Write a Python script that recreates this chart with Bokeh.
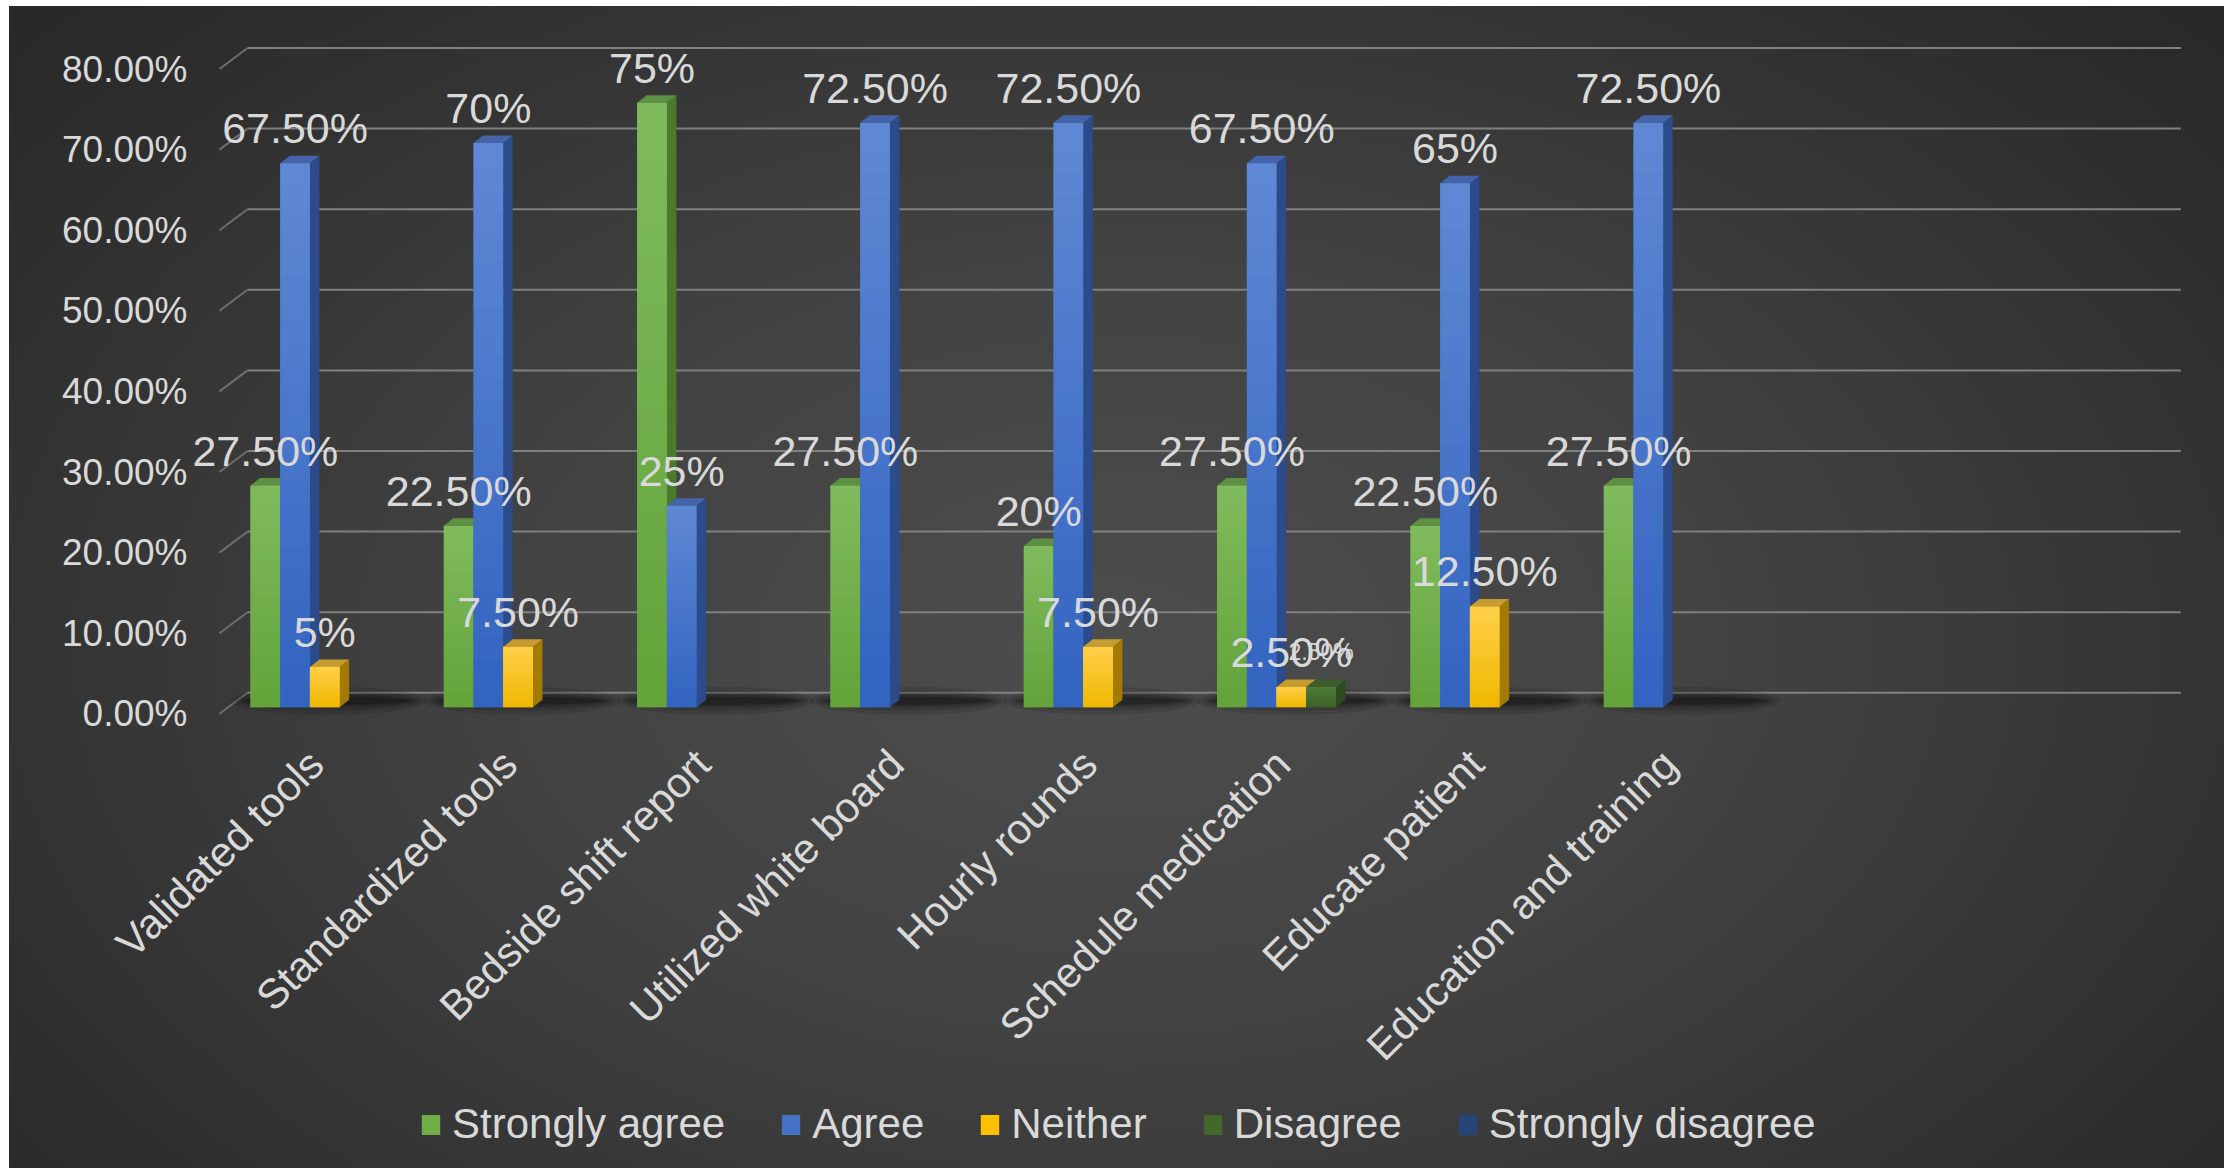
import math

from bokeh.core.properties import value
from bokeh.embed import file_html
from bokeh.models import (ColumnDataSource, FixedTicker, Legend, LegendItem,
                          LinearAxis, PrintfTickFormatter, Range1d)
from bokeh.plotting import figure
from bokeh.resources import INLINE

# ---------------------------------------------------------------- data
categories = [
    "Validated tools",
    "Standardized tools",
    "Bedside shift report",
    "Utilized white board",
    "Hourly rounds",
    "Schedule medication",
    "Educate patient",
    "Education and training",
]
series_names = ["Strongly agree", "Agree", "Neither", "Disagree", "Strongly disagree"]

strongly_agree = [27.5, 22.5, 75, 27.5, 20, 27.5, 22.5, 27.5]
agree = [67.5, 70, 25, 72.5, 72.5, 67.5, 65, 72.5]
neither = [5, 7.5, 0, 0, 7.5, 2.5, 12.5, 0]
disagree = [0, 0, 0, 0, 0, 2.5, 0, 0]
strongly_disagree = [0, 0, 0, 0, 0, 0, 0, 0]

y_ticks = [0, 10, 20, 30, 40, 50, 60, 70, 80]
n_slots = 10  # category slots along the floor; the last two stay empty

series_values = [strongly_agree, agree, neither, disagree, strongly_disagree]

# ---------------------------------------------------------------- styles
legend_col = ["#70ad47", "#4472c4", "#ffc000", "#43682b", "#264478"]
front_top = ["#80bb5e", "#6089d4", "#ffd04a", "#507a39", "#36578f"]
front_bottom = ["#63a339", "#3163c0", "#f0b700", "#3d6327", "#213e72"]
side_col = ["#4a7a2d", "#2b4b8a", "#a47b02", "#2e4a1f", "#1b3058"]
top_col = ["#5e9043", "#4463a8", "#c69c30", "#3d5c2b", "#2c4778"]
label_size = ["43px", "43px", "43px", "23px", "43px"]
text_col = "#d9d9d9"
font = "Liberation Sans"

# ---------------------------------------------------------------- geometry (page pixels)
PAGE_W, PAGE_H = 2224, 1168
M_TOP, M_LEFT = 6, 9
YAXIS_X = 200             # where the value axis sits (its labels end 13px left of it)
X0 = 227.6                # left edge of the first category in the bar plane
CAT_PX = 193.33           # width of one category slot
BASE = 706.7              # bar baseline
PCT_PX = 8.06             # pixels per percentage point
SLOT_PX = 29.7            # width of one bar
BAR_DX, BAR_DY = 9.5, 7.5         # depth of each bar (right, up)
BACK_DX, BACK_DY = 19.4, 14.4     # back wall relative to the bar plane
FRONT_DX, FRONT_DY = -8.6, -6.6   # front edge relative to the bar plane

x_start = (M_LEFT - X0) / CAT_PX - 0.5
x_end = (PAGE_W - X0) / CAT_PX - 0.5
y_start = (BASE - PAGE_H) / PCT_PX
y_end = (BASE - M_TOP) / PCT_PX

sx = 1.0 / CAT_PX   # data units per horizontal pixel
sy = 1.0 / PCT_PX   # data units per vertical pixel

p = figure(
    width=PAGE_W - M_LEFT,
    height=PAGE_H - M_TOP,
    x_range=Range1d(x_start, x_end),
    y_range=Range1d(y_start, y_end),
    x_axis_location=None,
    y_axis_location=None,
    toolbar_location=None,
    output_backend="svg",
    min_border_left=0,
    min_border_right=0,
    min_border_top=0,
    min_border_bottom=0,
)
p.margin = (M_TOP, 0, 0, M_LEFT)
p.background_fill_color = None
p.border_fill_color = None
p.outline_line_color = None
p.grid.visible = False
p.styles = {
    "background": "radial-gradient(ellipse 70% 85% at 50% 55%, #4d4d4d 0%, #424242 40%, #2c2c2c 85%, #272727 100%)"
}

# ---------------------------------------------------------------- back wall grid
back_l = -0.5 + BACK_DX * sx
back_r = n_slots - 0.5 + BACK_DX * sx
front_l = -0.5 + FRONT_DX * sx
p.segment(
    x0=[back_l] * len(y_ticks), x1=[back_r] * len(y_ticks),
    y0=[v + BACK_DY * sy for v in y_ticks], y1=[v + BACK_DY * sy for v in y_ticks],
    line_color="#808080", line_width=2,
)
p.segment(
    x0=[front_l] * len(y_ticks), x1=[back_l] * len(y_ticks),
    y0=[v + FRONT_DY * sy for v in y_ticks], y1=[v + BACK_DY * sy for v in y_ticks],
    line_color="#6e6e6e", line_width=2,
)

# ---------------------------------------------------------------- floor shadows
n_series = len(series_names)
slot = SLOT_PX * sx
pad = (1 - n_series * slot) / 2
occupied = [i for i in range(len(categories)) if any(s[i] > 0 for s in series_values)]
for w, h, a in [(1.02, 28, 0.10), (0.96, 20, 0.13), (0.9, 13, 0.17), (0.84, 8, 0.22)]:
    p.ellipse(
        x=[i + 0.02 for i in occupied], y=[0.8] * len(occupied),
        width=w, height=h, height_units="screen",
        fill_color="black", fill_alpha=a, line_color=None,
    )


def mix(c1, c2, t):
    a = [int(c1[k:k + 2], 16) for k in (1, 3, 5)]
    b = [int(c2[k:k + 2], 16) for k in (1, 3, 5)]
    return "#%02x%02x%02x" % tuple(round(a[j] + (b[j] - a[j]) * t) for j in range(3))


def pct_label(v):
    return f"{v:g}%" if float(v).is_integer() else f"{v:.2f}%"


# ---------------------------------------------------------------- bars
dx, dy = BAR_DX * sx, BAR_DY * sy
legend_items = []
label_layers = []
n_slices = 24
for k, (name, vals) in enumerate(zip(series_names, series_values)):
    # flat front faces for every category (zero values collapse to nothing);
    # this renderer also provides the legend swatch
    all_l = [i - 0.5 + pad + k * slot for i in range(len(vals))]
    r_front = p.quad(
        left=all_l, right=[l + slot for l in all_l],
        bottom=[0] * len(vals), top=vals,
        fill_color=legend_col[k], line_color=None,
    )
    legend_items.append(LegendItem(label=name, renderers=[r_front]))

    idx = [i for i, v in enumerate(vals) if v > 0]
    lefts = [all_l[i] for i in idx]
    rights = [l + slot for l in lefts]
    tops = [vals[i] for i in idx]

    # right side faces
    p.patches(
        xs=[[r, r + dx, r + dx, r] for r in rights],
        ys=[[0, dy, t + dy, t] for t in tops],
        fill_color=side_col[k], line_color=None,
    )
    # top faces
    p.patches(
        xs=[[l, l + dx, r + dx, r] for l, r in zip(lefts, rights)],
        ys=[[t, t + dy, t + dy, t] for t in tops],
        fill_color=top_col[k], line_color=None,
    )
    # vertical shading of the front faces
    ql, qr, qb, qt, qc = [], [], [], [], []
    for l, r, t in zip(lefts, rights, tops):
        for s in range(n_slices):
            ql.append(l)
            qr.append(r)
            qb.append(t * s / n_slices)
            qt.append(min(t, t * (s + 1) / n_slices + 0.15))
            qc.append(mix(front_bottom[k], front_top[k], (s + 0.5) / n_slices))
    p.quad(left=ql, right=qr, bottom=qb, top=qt, fill_color=qc, line_color=None)

    label_layers.append(dict(
        x=[(l + r) / 2 for l, r in zip(lefts, rights)],
        y=tops,
        text=[pct_label(t) for t in tops],
        size=label_size[k],
    ))

# ---------------------------------------------------------------- value labels
for lay in label_layers:
    src = ColumnDataSource(dict(x=lay["x"], y=lay["y"], text=lay["text"]))
    p.text(
        x="x", y="y", text="text", source=src,
        text_align="center", text_baseline="middle", y_offset=-35,
        text_color=text_col, text_font=value(font), text_font_size=value(lay["size"]),
    )

# ---------------------------------------------------------------- axes
# value axis: ticks sit on the front edge of the floor
front_shift = -FRONT_DY * sy
p.extra_y_ranges = {"front": Range1d(y_start + front_shift, y_end + front_shift)}
yaxis = LinearAxis(
    y_range_name="front",
    fixed_location=(YAXIS_X - X0) / CAT_PX - 0.5,
    ticker=FixedTicker(ticks=y_ticks, minor_ticks=[]),
    formatter=PrintfTickFormatter(format="%.2f%%"),
)
yaxis.axis_line_color = None
yaxis.major_tick_line_color = None
yaxis.minor_tick_line_color = None
yaxis.major_tick_out = 0
yaxis.major_tick_in = 0
yaxis.major_label_standoff = 13
yaxis.major_label_text_font_size = "37px"
yaxis.major_label_text_font = font
yaxis.major_label_text_color = text_col
p.add_layout(yaxis, "left")

# category axis: labels hang from the front edge of the floor
cat_shift = -FRONT_DX * sx
p.extra_x_ranges = {"front": Range1d(x_start + cat_shift, x_end + cat_shift)}
xaxis = LinearAxis(
    x_range_name="front",
    fixed_location=-4.7,
    ticker=FixedTicker(ticks=list(range(len(categories))), minor_ticks=[]),
    major_label_overrides={i: c for i, c in enumerate(categories)},
)
xaxis.axis_line_color = None
xaxis.major_tick_line_color = None
xaxis.minor_tick_line_color = None
xaxis.major_tick_out = 0
xaxis.major_tick_in = 0
xaxis.major_label_standoff = 12
xaxis.major_label_orientation = math.pi / 4
xaxis.major_label_text_font_size = "42px"
xaxis.major_label_text_font = font
xaxis.major_label_text_color = text_col
p.add_layout(xaxis, "below")

# ---------------------------------------------------------------- legend
legend = Legend(
    items=legend_items,
    orientation="horizontal",
    location=(410, 20),
    background_fill_alpha=0,
    border_line_color=None,
    label_text_color=text_col,
    label_text_font=font,
    label_text_font_size="42px",
    glyph_width=23,
    glyph_height=25,
    label_standoff=10,
    spacing=54,
    padding=0,
    margin=0,
)
p.add_layout(legend)

open("out.html", "w").write(file_html(p, INLINE))
